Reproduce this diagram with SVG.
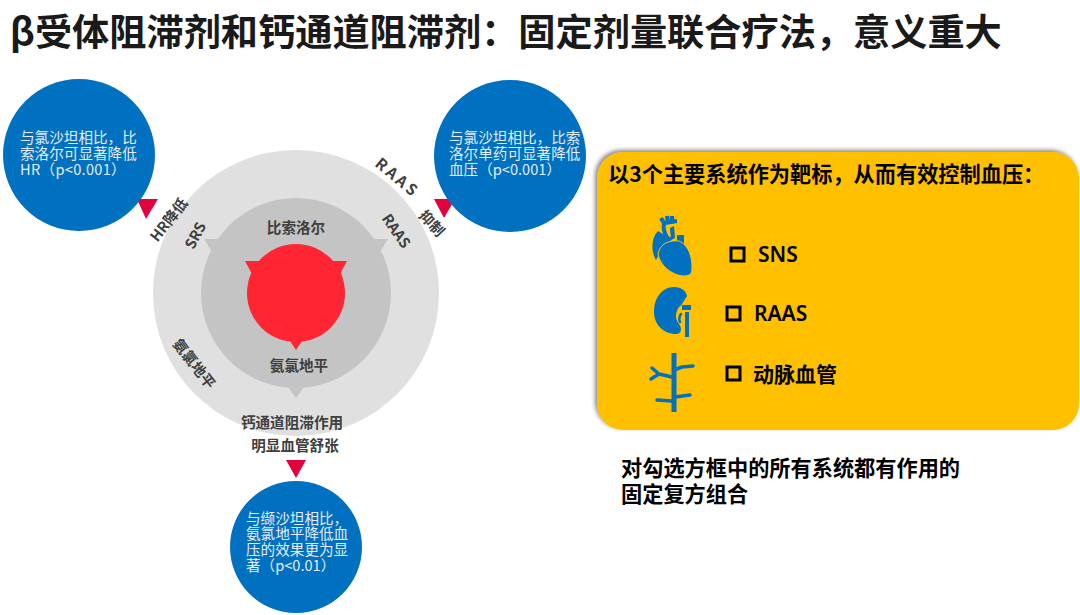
<svg xmlns="http://www.w3.org/2000/svg" width="1080" height="615" viewBox="0 0 1080 615">
<defs>
<filter id="sh" x="-5%" y="-5%" width="110%" height="110%"><feDropShadow dx="-2" dy="-2" stdDeviation="2" flood-color="#555" flood-opacity="0.7"/></filter>
</defs>
<style>
text{font-family:"Noto Sans CJK SC","Noto Sans",sans-serif}
.w{fill:#e6eef8;font-size:14.6px}
.g{fill:#404040;font-size:14.6px;font-weight:700;text-anchor:middle}
.k{fill:#000;font-weight:700;font-size:21.2px}
.b{fill:#0070c0}
.p{fill:#e3003f}
.sq{fill:none;stroke:#000;stroke-width:3}
.v{fill:none;stroke:#0070c0;stroke-width:5;stroke-linecap:round;stroke-linejoin:round}
.gap{stroke:#ffc000;stroke-width:1}
</style>
<rect width="1080" height="615" fill="#fff"/>
<text x="10" y="46" fill="#1a1a1a" font-weight="700" font-size="37.2">β受体阻滞剂和钙通道阻滞剂：固定剂量联合疗法，意义重大</text>

<g id="rings">
<circle cx="296" cy="293" r="143" fill="#e0e0e0"/>
<circle cx="296" cy="293" r="95" fill="#c4c4c4"/>
<polygon points="204,239 220,239 212,252" fill="#c4c4c4"/>
<polygon points="372,239 388,239 380,252" fill="#c4c4c4"/>
<polygon points="288,387 304,387 296,398" fill="#c4c4c4"/>
<circle cx="296" cy="293" r="49" fill="#ff2532"/>
<polygon points="245,261 263,261 252,274" fill="#ff2532"/>
<polygon points="347,261 329,261 340,274" fill="#ff2532"/>
<polygon points="290,341 302,341 296,350" fill="#ff2532"/>
<text class="g" x="296" y="233">比索洛尔</text>
<text class="g" x="299" y="371">氨氯地平</text>
<text class="g" transform="translate(200,238) rotate(-62)">SRS</text>
<text class="g" transform="translate(392,234) rotate(55)">RAAS</text>
<text class="g" transform="translate(173,223) rotate(-52)">HR降低</text>
<text class="g" transform="translate(394,182) rotate(40)" style="letter-spacing:3px;font-size:15.5px">RAAS</text>
<text class="g" transform="translate(428,227) rotate(47)">抑制</text>
<text class="g" transform="translate(190,367) rotate(52)">氨氯地平</text>
<text class="g" x="292" y="428">钙通道阻滞作用</text>
<text class="g" x="295" y="451">明显血管舒张</text>
</g>

<g id="node-left">
<polygon class="p" points="137,199 158,199 146,219"/>
<circle class="b" cx="79" cy="155" r="76"/>
<text class="w"><tspan x="20" y="143">与氯沙坦相比，比</tspan><tspan x="20" y="159">索洛尔可显著降低</tspan><tspan x="20" y="175" style="letter-spacing:.3px">HR（p&lt;0.001）</tspan></text>
</g>
<g id="node-right">
<polygon class="p" points="434,199 455,199 444,218"/>
<circle class="b" cx="510" cy="156" r="76"/>
<text class="w"><tspan x="449" y="143">与氯沙坦相比，比索</tspan><tspan x="449" y="159">洛尔单药可显著降低</tspan><tspan x="449" y="175">血压（p&lt;0.001）</tspan></text>
</g>
<g id="node-bottom">
<polygon class="p" points="286,460 306,460 296,478"/>
<circle class="b" cx="296" cy="547" r="66"/>
<text class="w"><tspan x="246" y="524">与缬沙坦相比，</tspan><tspan x="246" y="539">氨氯地平降低血</tspan><tspan x="246" y="555">压的效果更为显</tspan><tspan x="246" y="571">著（p&lt;0.01）</tspan></text>
</g>

<g id="panel">
<rect x="597" y="152" width="482" height="278" rx="26" fill="#ffc000" filter="url(#sh)"/>
<text class="k" x="608" y="182">以3个主要系统作为靶标，从而有效控制血压：</text>
<g id="heart">
<path class="b" d="M658 231C651 238 651 252 656 260L663 247C666 243 670 240 674 238L666 236Z"/>
<path class="v" style="stroke-width:4.2;stroke-linecap:butt" d="M670 243C664 233 662 226 665 223L677 221M664 223L661 218M668 222L667 216M672 221L672 216"/>
<path class="b" d="M677 235h7v9h-7zM670 228l4-2 1 12-4 2z"/>
<path class="b gap" d="M658 254C660 243 670 240 679 241C688 245 692 255 692 268C692 274 690 276 683 276C672 275 660 266 658 254Z"/>
</g>
<g id="kidney">
<path class="b" d="M674 287C662 287 654 298 654 312C654 325 664 334 676 334C682 334 682 328 679 324C676 320 675 316 677 311C678 307 681 306 682 304L687 296C686 290 680 287 674 287Z"/>
<path class="b" d="M682 305h9v5h-9zM685 312h4v25h-4z"/>
<path class="v" style="stroke-width:2.5" d="M681 314c-2 2 -2 6 -1 8"/>
</g>
<g id="artery">
<path class="v" style="stroke-linecap:butt;stroke-width:5" d="M674 353V412"/>
<path class="v" style="stroke-width:3.5" d="M674 370L682 367L693 366M672 377L659 374L652 368M659 374L651 379M672 401L657 400M675 397L690 395"/>
</g>
<rect class="sq" x="731" y="248" width="13" height="13"/>
<rect class="sq" x="727" y="307" width="13" height="13"/>
<rect class="sq" x="727" y="367" width="13" height="13"/>
<text class="k" x="758" y="262" style="font-family:'Noto Sans',sans-serif;font-size:21px;font-weight:600">SNS</text>
<text class="k" x="754" y="321" style="font-family:'Noto Sans',sans-serif;font-size:21px;font-weight:600">RAAS</text>
<text class="k" x="753" y="382" style="font-size:21px">动脉血管</text>
</g>

<g id="note">
<text class="k" x="621" y="476">对勾选方框中的所有系统都有作用的</text>
<text class="k" x="621" y="502">固定复方组合</text>
</g>
</svg>
